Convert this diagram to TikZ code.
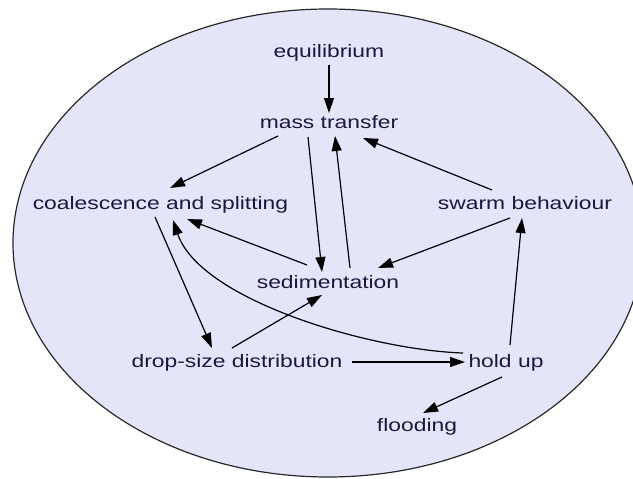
\documentclass[tikz,border=0pt]{standalone}
\usepackage{fontspec}
\usepackage{graphicx}
\setmainfont{Liberation Sans}
\usetikzlibrary{arrows.meta}
\definecolor{ellfill}{RGB}{229,229,250}
\definecolor{ellline}{RGB}{40,40,40}
\definecolor{txt}{RGB}{25,25,60}
\newcommand{\lbl}[1]{\fontsize{18}{20}\selectfont\scalebox{1.27}[1]{#1}}
\begin{document}
\begin{tikzpicture}[x=1pt,y=-1pt,
  lab/.style={inner sep=0pt, anchor=base, text=txt},
  arr/.style={line width=1.2pt, -{Triangle[length=15pt,width=10pt]}}]
\useasboundingbox (0,0) rectangle (633,479);
\clip (0,0) rectangle (633,479);
\fill[white] (0,0) rectangle (633,479);
\draw[fill=ellfill, draw=ellline, line width=1.2pt] (328,243) ellipse [x radius=315, y radius=234];

\node[lab] (eq) at (329,57) {\lbl{equilibrium}};
\node[lab] (mt) at (329,128) {\lbl{mass transfer}};
\node[lab] (co) at (160.5,209) {\lbl{coalescence and splitting}};
\node[lab] (sw) at (525,209) {\lbl{swarm behaviour}};
\node[lab] (se) at (328,288) {\lbl{sedimentation}};
\node[lab] (ds) at (237,367) {\lbl{drop-size distribution}};
\node[lab] (hu) at (506,367) {\lbl{hold up}};
\node[lab] (fl) at (417,431) {\lbl{flooding}};

\draw[arr] ([shift={(0,8)}]eq.base) -- ([shift={(0,-15)}]mt.base);
\draw[arr] ([shift={(-51,8)}]mt.base) -- ([shift={(9.5,-21)}]co.base);
\draw[arr] ([shift={(-21,9)}]mt.base) -- ([shift={(-6,-16)}]se.base);
\draw[arr] ([shift={(22,-20)}]se.base) -- ([shift={(6,8)}]mt.base);
\draw[arr] ([shift={(-33,-19)}]sw.base) -- ([shift={(34,10)}]mt.base);
\draw[arr] ([shift={(-21,-23)}]se.base) -- ([shift={(26.5,10)}]co.base);
\draw[arr] ([shift={(-5.5,8)}]co.base) -- ([shift={(-25,-19)}]ds.base);
\draw[arr] ([shift={(-43,-14)}]hu.base) .. controls +(-93,-3) and +(27,80) .. ([shift={(12.5,11)}]co.base);
\draw[arr] ([shift={(-5,-19)}]ds.base) -- ([shift={(-6,7)}]se.base);
\draw[arr] ([shift={(115,-5)}]ds.base) -- ([shift={(-41,-5)}]hu.base);
\draw[arr] ([shift={(4,-22)}]hu.base) -- ([shift={(-3,9)}]sw.base);
\draw[arr] ([shift={(-15,9)}]sw.base) -- ([shift={(50,-20)}]se.base);
\draw[arr] ([shift={(-4,10)}]hu.base) -- ([shift={(6,-18)}]fl.base);
\end{tikzpicture}
\end{document}
